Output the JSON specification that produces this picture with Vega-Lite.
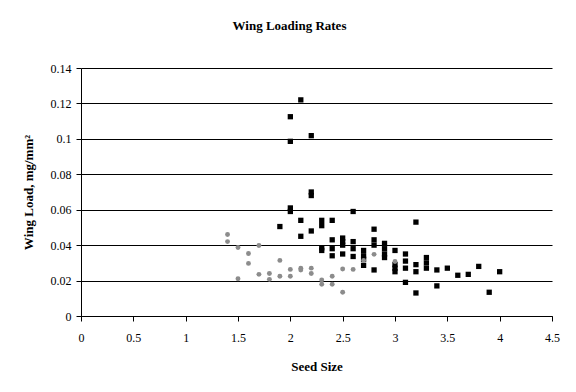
{
  "$schema": "https://vega.github.io/schema/vega-lite/v6.json",
  "autosize": "none",
  "width": 471,
  "height": 248,
  "padding": {"left": 81, "top": 68, "right": 24, "bottom": 76},
  "background": "white",
  "title": {"text": "Wing Loading Rates", "font": "Liberation Serif", "fontSize": 13, "fontWeight": "bold", "color": "black", "anchor": "middle", "dx": -27, "offset": 29},
  "config": {
    "view": {"stroke": null},
    "axis": {"labelFont": "Liberation Serif", "labelFontSize": 12, "labelColor": "black", "titleFont": "Liberation Serif", "titleFontSize": 13, "titleFontWeight": "bold", "titleColor": "black", "domainColor": "black", "tickColor": "black", "tickSize": 5, "gridColor": "black", "gridOpacity": 1, "gridWidth": 1, "domainWidth": 1, "tickWidth": 1}
  },
  "data": {"values": [
    {"seed": 1.9, "load": 0.0505, "series": "black"},
    {"seed": 2.0, "load": 0.1125, "series": "black"},
    {"seed": 2.0, "load": 0.0986, "series": "black"},
    {"seed": 2.0, "load": 0.061, "series": "black"},
    {"seed": 2.0, "load": 0.059, "series": "black"},
    {"seed": 2.1, "load": 0.122, "series": "black"},
    {"seed": 2.1, "load": 0.054, "series": "black"},
    {"seed": 2.1, "load": 0.045, "series": "black"},
    {"seed": 2.2, "load": 0.1018, "series": "black"},
    {"seed": 2.2, "load": 0.070, "series": "black"},
    {"seed": 2.2, "load": 0.068, "series": "black"},
    {"seed": 2.2, "load": 0.048, "series": "black"},
    {"seed": 2.3, "load": 0.054, "series": "black"},
    {"seed": 2.3, "load": 0.051, "series": "black"},
    {"seed": 2.3, "load": 0.0385, "series": "black"},
    {"seed": 2.3, "load": 0.037, "series": "black"},
    {"seed": 2.4, "load": 0.054, "series": "black"},
    {"seed": 2.4, "load": 0.043, "series": "black"},
    {"seed": 2.4, "load": 0.038, "series": "black"},
    {"seed": 2.4, "load": 0.034, "series": "black"},
    {"seed": 2.5, "load": 0.044, "series": "black"},
    {"seed": 2.5, "load": 0.042, "series": "black"},
    {"seed": 2.5, "load": 0.040, "series": "black"},
    {"seed": 2.5, "load": 0.035, "series": "black"},
    {"seed": 2.6, "load": 0.059, "series": "black"},
    {"seed": 2.6, "load": 0.042, "series": "black"},
    {"seed": 2.6, "load": 0.038, "series": "black"},
    {"seed": 2.6, "load": 0.0336, "series": "black"},
    {"seed": 2.7, "load": 0.037, "series": "black"},
    {"seed": 2.7, "load": 0.034, "series": "black"},
    {"seed": 2.7, "load": 0.032, "series": "black"},
    {"seed": 2.7, "load": 0.0286, "series": "black"},
    {"seed": 2.8, "load": 0.049, "series": "black"},
    {"seed": 2.8, "load": 0.043, "series": "black"},
    {"seed": 2.8, "load": 0.040, "series": "black"},
    {"seed": 2.8, "load": 0.026, "series": "black"},
    {"seed": 2.9, "load": 0.041, "series": "black"},
    {"seed": 2.9, "load": 0.038, "series": "black"},
    {"seed": 2.9, "load": 0.035, "series": "black"},
    {"seed": 2.9, "load": 0.033, "series": "black"},
    {"seed": 3.0, "load": 0.037, "series": "black"},
    {"seed": 3.0, "load": 0.029, "series": "black"},
    {"seed": 3.0, "load": 0.027, "series": "black"},
    {"seed": 3.0, "load": 0.025, "series": "black"},
    {"seed": 3.1, "load": 0.035, "series": "black"},
    {"seed": 3.1, "load": 0.031, "series": "black"},
    {"seed": 3.1, "load": 0.027, "series": "black"},
    {"seed": 3.1, "load": 0.019, "series": "black"},
    {"seed": 3.2, "load": 0.053, "series": "black"},
    {"seed": 3.2, "load": 0.029, "series": "black"},
    {"seed": 3.2, "load": 0.025, "series": "black"},
    {"seed": 3.2, "load": 0.013, "series": "black"},
    {"seed": 3.3, "load": 0.033, "series": "black"},
    {"seed": 3.3, "load": 0.030, "series": "black"},
    {"seed": 3.3, "load": 0.027, "series": "black"},
    {"seed": 3.4, "load": 0.026, "series": "black"},
    {"seed": 3.4, "load": 0.017, "series": "black"},
    {"seed": 3.5, "load": 0.027, "series": "black"},
    {"seed": 3.6, "load": 0.023, "series": "black"},
    {"seed": 3.7, "load": 0.0235, "series": "black"},
    {"seed": 3.8, "load": 0.028, "series": "black"},
    {"seed": 3.9, "load": 0.0134, "series": "black"},
    {"seed": 4.0, "load": 0.025, "series": "black"},
    {"seed": 1.4, "load": 0.046, "series": "gray"},
    {"seed": 1.4, "load": 0.042, "series": "gray"},
    {"seed": 1.5, "load": 0.0387, "series": "gray"},
    {"seed": 1.5, "load": 0.021, "series": "gray"},
    {"seed": 1.6, "load": 0.0353, "series": "gray"},
    {"seed": 1.6, "load": 0.0297, "series": "gray"},
    {"seed": 1.7, "load": 0.0398, "series": "gray"},
    {"seed": 1.7, "load": 0.0235, "series": "gray"},
    {"seed": 1.8, "load": 0.024, "series": "gray"},
    {"seed": 1.8, "load": 0.0207, "series": "gray"},
    {"seed": 1.9, "load": 0.0314, "series": "gray"},
    {"seed": 1.9, "load": 0.0224, "series": "gray"},
    {"seed": 2.0, "load": 0.0263, "series": "gray"},
    {"seed": 2.0, "load": 0.0224, "series": "gray"},
    {"seed": 2.1, "load": 0.027, "series": "gray"},
    {"seed": 2.1, "load": 0.026, "series": "gray"},
    {"seed": 2.2, "load": 0.027, "series": "gray"},
    {"seed": 2.2, "load": 0.024, "series": "gray"},
    {"seed": 2.3, "load": 0.0203, "series": "gray"},
    {"seed": 2.3, "load": 0.0179, "series": "gray"},
    {"seed": 2.4, "load": 0.0224, "series": "gray"},
    {"seed": 2.4, "load": 0.0179, "series": "gray"},
    {"seed": 2.5, "load": 0.0265, "series": "gray"},
    {"seed": 2.5, "load": 0.0134, "series": "gray"},
    {"seed": 2.6, "load": 0.0263, "series": "gray"},
    {"seed": 2.7, "load": 0.0314, "series": "gray"},
    {"seed": 2.8, "load": 0.0348, "series": "gray"},
    {"seed": 3.0, "load": 0.0308, "series": "gray"}
  ]},
  "mark": {"type": "point", "filled": true, "opacity": 1},
  "encoding": {
    "x": {"field": "seed", "type": "quantitative", "scale": {"domain": [0, 4.5], "nice": false, "zero": true},
      "axis": {"title": "Seed Size", "values": [0, 0.5, 1, 1.5, 2, 2.5, 3, 3.5, 4, 4.5], "format": "~g", "grid": false, "labelPadding": 11, "titlePadding": 17, "labelFlush": false}},
    "y": {"field": "load", "type": "quantitative", "scale": {"domain": [0, 0.14], "nice": false},
      "axis": {"title": "Wing Load, mg/mm²", "values": [0, 0.02, 0.04, 0.06, 0.08, 0.1, 0.12, 0.14], "format": "~g", "grid": true, "labelPadding": 5, "titlePadding": 15, "labelFlush": false}},
    "shape": {"field": "series", "type": "nominal", "scale": {"domain": ["black", "gray"], "range": ["square", "circle"]}, "legend": null},
    "color": {"field": "series", "type": "nominal", "scale": {"domain": ["black", "gray"], "range": ["#000000", "#8c8c8c"]}, "legend": null},
    "size": {"field": "series", "type": "nominal", "scale": {"domain": ["black", "gray"], "range": [28, 24]}, "legend": null}
  }
}
